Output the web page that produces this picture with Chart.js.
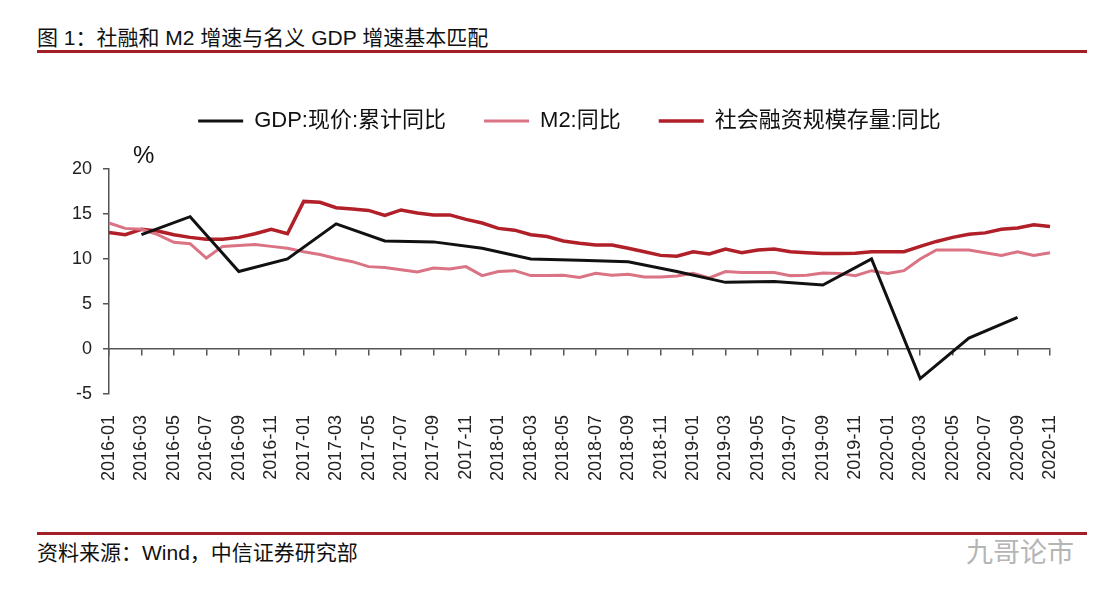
<!DOCTYPE html>
<html>
<head>
<meta charset="utf-8">
<script src="https://cdn.jsdelivr.net/npm/chart.js@4.4.1/dist/chart.umd.min.js"></script>
<style>
  body { margin: 0; background: #fff; font-family: "Liberation Sans", "Noto Sans CJK SC", sans-serif; color: #111; }
  #page { position: relative; width: 1108px; height: 598px; overflow: hidden; }
  #title { position: absolute; left: 37px; top: 25px; font-size: 21px; line-height: 26px; white-space: nowrap; }
  .rule { position: absolute; left: 37px; width: 1050px; height: 3px; background: #a31e26; }
  #unit { position: absolute; left: 133px; top: 141px; font-size: 24px; line-height: 28px; }
  #source { position: absolute; left: 37px; top: 540px; font-size: 21px; line-height: 26px; white-space: nowrap; }
  #mark { position: absolute; left: 966px; top: 537px; font-size: 27px; line-height: 32px; color: #b5b5b5; white-space: nowrap; }
  #wrap { position: absolute; left: 0; top: 72px; width: 1108px; height: 430px; }
</style>
</head>
<body>
<div id="page">
  <div id="title">图 1：社融和 M2 增速与名义 GDP 增速基本匹配</div>
  <div class="rule" style="top:50px"></div>
  <div id="wrap"><canvas id="growthChart"></canvas></div>
  <div id="unit">%</div>
  <div class="rule" style="top:532px"></div>
  <div id="source">资料来源：Wind，中信证券研究部</div>
  <div id="mark">九哥论市</div>
</div>
<script>
// months on the x axis
const months = [
  '2016-01','2016-02','2016-03','2016-04','2016-05','2016-06','2016-07','2016-08','2016-09','2016-10','2016-11','2016-12',
  '2017-01','2017-02','2017-03','2017-04','2017-05','2017-06','2017-07','2017-08','2017-09','2017-10','2017-11','2017-12',
  '2018-01','2018-02','2018-03','2018-04','2018-05','2018-06','2018-07','2018-08','2018-09','2018-10','2018-11','2018-12',
  '2019-01','2019-02','2019-03','2019-04','2019-05','2019-06','2019-07','2019-08','2019-09','2019-10','2019-11','2019-12',
  '2020-01','2020-02','2020-03','2020-04','2020-05','2020-06','2020-07','2020-08','2020-09','2020-10','2020-11'
];

// GDP is quarterly, null on the other months
const gdpValues = [
  null, null, 12.7, null, null, 14.7, null, null, 8.6, null, null, 10.0,
  null, null, 13.9, null, null, 12.0, null, null, 11.9, null, null, 11.2,
  null, null, 10.0, null, null, 9.85, null, null, 9.7, null, null, 8.6,
  null, null, 7.4, null, null, 7.5, null, null, 7.1, null, null, 10.0,
  null, null, -3.3, null, null, 1.2, null, null, 3.5, null, null
];

const m2Values = [
  14.0, 13.4, 13.3, 12.7, 11.85, 11.7, 10.1, 11.4, 11.5, 11.6, 11.4, 11.2,
  10.8, 10.5, 10.05, 9.7, 9.15, 9.05, 8.8, 8.55, 9.0, 8.9, 9.15, 8.15,
  8.6, 8.7, 8.15, 8.15, 8.2, 7.95, 8.4, 8.2, 8.3, 8.0, 8.0, 8.1,
  8.4, 7.9, 8.6, 8.5, 8.5, 8.5, 8.15, 8.2, 8.45, 8.4, 8.15, 8.7,
  8.4, 8.7, 10.0, 11.0, 11.0, 11.0, 10.7, 10.4, 10.8, 10.4, 10.7
];

const tsfValues = [
  12.95, 12.7, 13.3, 13.1, 12.7, 12.4, 12.2, 12.2, 12.4, 12.8, 13.3, 12.8,
  16.4, 16.3, 15.7, 15.55, 15.4, 14.85, 15.45, 15.1, 14.9, 14.9, 14.4, 14.0,
  13.4, 13.2, 12.7, 12.5, 12.0, 11.75, 11.55, 11.55, 11.2, 10.8, 10.4, 10.3,
  10.8, 10.55, 11.1, 10.7, 11.0, 11.1, 10.8, 10.7, 10.6, 10.6, 10.65, 10.8,
  10.8, 10.8, 11.4, 11.95, 12.4, 12.75, 12.9, 13.3, 13.45, 13.8, 13.6
];

const yTicks = [-5, 0, 5, 10, 15, 20];

const FONT = '"Liberation Sans", "Noto Sans CJK SC", sans-serif';
const AXIS = '#555';

// room under the legend for the % sign, and nudge the legend right like the original
const legendPlace = {
  id: 'legendPlace',
  beforeInit(chart) {
    const fit = chart.legend.fit;
    chart.legend.fit = function () {
      fit.call(this);
      this.height += 27;
    };
  },
  afterLayout(chart) {
    chart.legend.left += 10;
    chart.legend.right += 10;
  }
};

function makeLine(label, data, color, width) {
  return {
    label: label,
    data: data,
    xAxisID: 'x',
    borderColor: color,
    backgroundColor: color,
    borderWidth: width,
    pointRadius: 0,
    tension: 0,
    spanGaps: true
  };
}

const ctx = document.getElementById('growthChart').getContext('2d');
new Chart(ctx, {
  type: 'line',
  data: {
    labels: months,
    datasets: [
      makeLine('GDP:现价:累计同比', gdpValues, '#111111', 3),
      makeLine('M2:同比', m2Values, '#da7383', 3),
      makeLine('社会融资规模存量:同比', tsfValues, '#b11f29', 3.5)
    ]
  },
  options: {
    responsive: true,
    maintainAspectRatio: false,
    animation: false,
    layout: { padding: { left: 69, right: 58, top: 0, bottom: 0 } },
    plugins: {
      tooltip: { enabled: false },
      legend: {
        position: 'top',
        labels: {
          usePointStyle: true,
          pointStyle: 'line',
          pointStyleWidth: 45,
          boxHeight: 22,
          padding: 38,
          color: '#111',
          font: { family: FONT, size: 22 }
        }
      }
    },
    scales: {
      x: {
        type: 'category',
        offset: false,
        grid: { display: false, drawTicks: false },
        border: { display: false },
        ticks: {
          autoSkip: false,
          minRotation: 90,
          maxRotation: 90,
          padding: 21,
          color: '#222',
          font: { family: FONT, size: 18 },
          callback: function (value, index) {
            return index % 2 === 0 ? this.getLabelForValue(value) : '';
          }
        }
      },
      x2: {
        type: 'category',
        axis: 'x',
        position: { y: 0 },
        offset: false,
        grid: {
          drawOnChartArea: false,
          tickLength: 6,
          lineWidth: 1.5,
          color: (c) => (c.index % 2 === 0 ? AXIS : 'rgba(0,0,0,0)')
        },
        border: { color: AXIS, width: 1.5 },
        ticks: { display: false }
      },
      y: {
        min: -5,
        max: 20,
        afterBuildTicks: (scale) => { scale.ticks = yTicks.map(v => ({ value: v })); },
        afterFit: (scale) => { scale.width = 40; },
        grid: { drawOnChartArea: false, tickLength: 6, lineWidth: 1.5, color: AXIS },
        border: { color: AXIS, width: 1.5 },
        ticks: { padding: 11, color: '#222', font: { family: FONT, size: 18 } }
      }
    }
  },
  plugins: [legendPlace]
});
</script>
</body>
</html>
